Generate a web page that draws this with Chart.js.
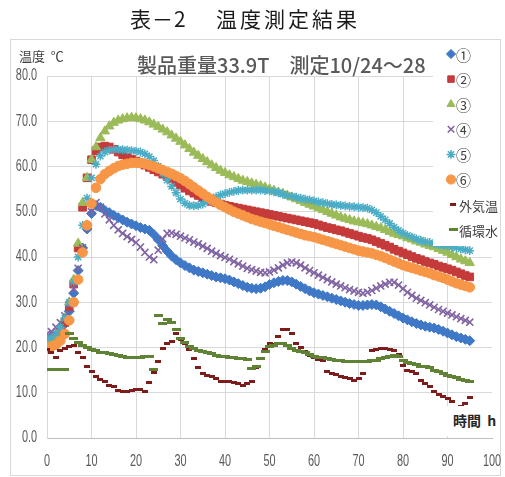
<!DOCTYPE html>
<html>
<head>
<meta charset="utf-8">
<script src="https://cdn.jsdelivr.net/npm/chart.js@4/dist/chart.umd.min.js"></script>
<style>
  html, body { margin: 0; padding: 0; background: #fff; }
  #wrap { position: relative; width: 505px; height: 477px; overflow: hidden; font-family: "Noto Sans CJK JP", sans-serif; }
  #frame { position: absolute; left: 10px; top: 39px; width: 491px; height: 437px; border: 1px solid #d9d9d9; box-sizing: border-box; }
  #chart { position: absolute; left: 0; top: 0; }
  .t { position: absolute; line-height: 1; white-space: nowrap; }
  #head1 { left: 130px; top: 8px; font-size: 21px; color: #1a1a1a; letter-spacing: 1px; }
  #head2 { left: 216px; top: 8px; font-size: 21px; color: #1a1a1a; letter-spacing: 3px; }
  #sub { left: 137px; top: 55px; font-size: 20px; font-weight: 500; color: #595959; }
  #yunit { left: 19px; top: 49px; font-size: 13px; color: #404040; }
  #xunit { left: 442px; top: 406px; width: 58px; height: 30px; background: #fff; font-size: 14px; font-weight: bold; color: #262626; padding: 7px 0 0 11px; box-sizing: border-box; }
</style>
</head>
<body>
<div id="wrap">
  <div id="frame"></div>
  <canvas id="chart" width="505" height="477"></canvas>
  <div class="t" id="head1">表－2</div>
  <div class="t" id="head2">温度測定結果</div>
  <div class="t" id="sub">製品重量33.9T　測定10/24～28</div>
  <div class="t" id="yunit">温度&nbsp;&nbsp;℃</div>
  <div class="t" id="xunit">時間&nbsp;&nbsp;h</div>
</div>
<script>
// elapsed time of each reading (h)
const HOURS = [
  0, 1, 2, 3, 4, 5, 6, 7, 8, 9,
  10, 11, 12, 13, 14, 15, 16, 17, 18, 19,
  20, 21, 22, 23, 24, 25, 26, 27, 28, 29,
  30, 31, 32, 33, 34, 35, 36, 37, 38, 39,
  40, 41, 42, 43, 44, 45, 46, 47, 48, 49,
  50, 51, 52, 53, 54, 55, 56, 57, 58, 59,
  60, 61, 62, 63, 64, 65, 66, 67, 68, 69,
  70, 71, 72, 73, 74, 75, 76, 77, 78, 79,
  80, 81, 82, 83, 84, 85, 86, 87, 88, 89,
  90, 91, 92, 93, 94, 95
];

// measuring points ① – ⑥ (℃)
const P1 = [
  22.0, 22.2, 22.8, 23.8, 25.2, 28.0, 32.0, 37.0, 42.0, 46.2,
  49.6, 51.4, 51.0, 50.3, 49.8, 49.2, 48.7, 48.2, 47.7, 47.3,
  46.9, 46.5, 46.2, 45.9, 45.0, 43.8, 42.5, 41.3, 40.2, 39.4,
  38.7, 38.1, 37.6, 37.1, 36.8, 36.5, 36.2, 35.9, 35.6, 35.4,
  35.2, 34.9, 34.5, 34.1, 33.7, 33.3, 33.1, 33.0, 33.1, 33.4,
  33.9, 34.3, 34.6, 34.8, 34.8, 34.5, 34.0, 33.5, 33.0, 32.5,
  32.1, 31.8, 31.5, 31.2, 30.9, 30.6, 30.3, 30.0, 29.7, 29.5,
  29.3, 29.3, 29.4, 29.5, 29.4, 29.0, 28.5, 28.0, 27.5, 27.0,
  26.5, 26.1, 25.7, 25.3, 25.0, 24.7, 24.5, 24.3, 24.0, 23.6,
  23.2, 22.8, 22.4, 22.1, 21.8, 21.5
];
const P2 = [
  21.5, 21.6, 22.0, 23.5, 25.5, 29.0, 34.0, 42.0, 51.0, 57.5,
  61.5, 63.5, 64.3, 64.5, 64.3, 63.8, 63.2, 62.6, 62.0, 61.6,
  61.2, 60.8, 60.3, 59.8, 59.3, 58.8, 58.3, 57.8, 57.3, 56.6,
  55.9, 55.2, 54.6, 54.1, 53.6, 53.1, 52.7, 52.3, 52.0, 51.7,
  51.4, 51.2, 51.0, 50.8, 50.6, 50.4, 50.2, 50.0, 49.8, 49.6,
  49.4, 49.2, 49.0, 48.8, 48.6, 48.4, 48.2, 48.0, 47.8, 47.6,
  47.4, 47.1, 46.8, 46.5, 46.3, 46.0, 45.8, 45.5, 45.2, 44.9,
  44.6, 44.3, 44.1, 43.8, 43.4, 43.0, 42.6, 42.2, 41.7, 41.3,
  40.9, 40.5, 40.1, 39.7, 39.4, 39.0, 38.7, 38.4, 38.0, 37.7,
  37.4, 37.1, 36.7, 36.3, 35.9, 35.6
];
const P3 = [
  21.0, 21.5, 22.5, 24.0, 26.5, 30.0, 35.0, 43.0, 52.0, 57.5,
  61.5, 64.3, 66.3, 67.8, 68.9, 69.7, 70.2, 70.5, 70.7, 70.8,
  70.7, 70.5, 70.2, 69.8, 69.3, 68.8, 68.2, 67.6, 66.9, 66.2,
  65.5, 64.7, 63.9, 63.1, 62.4, 61.7, 61.0, 60.3, 59.7, 59.1,
  58.6, 58.1, 57.7, 57.3, 56.9, 56.6, 56.3, 56.0, 55.7, 55.4,
  55.0, 54.7, 54.3, 54.0, 53.6, 53.2, 52.8, 52.4, 52.0, 51.6,
  51.2, 50.8, 50.4, 50.0, 49.6, 49.2, 48.8, 48.5, 48.2, 47.9,
  47.7, 47.5, 47.3, 47.0, 46.7, 46.4, 46.0, 45.6, 45.2, 44.9,
  44.6, 44.2, 43.9, 43.5, 43.2, 42.8, 42.5, 42.2, 41.8, 41.4,
  41.0, 40.5, 40.0, 39.5, 39.1, 38.7
];
const P4 = [
  23.0, 23.5, 24.5, 25.5, 27.0, 29.5, 33.0, 37.5, 42.0, 46.5,
  50.0, 52.0, 51.0, 49.5, 48.2, 47.0, 46.0, 45.2, 44.5, 43.9,
  43.2, 42.2, 41.0, 40.0, 39.4, 41.5, 44.0, 45.2, 45.3, 45.0,
  44.6, 44.2, 43.8, 43.3, 42.9, 42.4, 41.9, 41.3, 40.8, 40.3,
  39.9, 39.5, 39.0, 38.5, 38.0, 37.5, 37.2, 36.9, 36.6, 36.5,
  36.7, 37.1, 37.6, 38.2, 38.7, 38.9, 38.7, 38.2, 37.6, 37.0,
  36.5, 36.0, 35.5, 35.0, 34.5, 34.0, 33.6, 33.2, 32.8, 32.5,
  32.2, 32.0, 32.2, 32.6, 33.1, 33.6, 34.0, 34.4, 34.4, 33.8,
  33.0, 32.2, 31.5, 30.9, 30.4, 29.9, 29.4, 28.9, 28.4, 28.0,
  27.6, 27.2, 26.8, 26.4, 26.0, 25.6
];
const P5 = [
  22.0, 22.2, 23.0, 24.5, 26.5, 30.0, 34.5, 40.0, 47.0, 53.0,
  57.5, 60.5, 62.3, 63.2, 63.6, 63.8, 63.8, 63.7, 63.6, 63.5,
  63.4, 63.2, 62.8, 62.2, 61.3, 60.0, 58.5, 57.0, 55.6, 54.2,
  52.8, 51.9, 51.4, 51.3, 51.4, 51.7, 52.2, 52.8, 53.3, 53.7,
  54.0, 54.3, 54.5, 54.7, 54.8, 54.8, 54.8, 54.8, 54.8, 54.7,
  54.6, 54.4, 54.2, 53.9, 53.6, 53.4, 53.2, 53.0, 52.8, 52.6,
  52.4, 52.2, 52.0, 51.8, 51.6, 51.5, 51.4, 51.3, 51.2, 51.1,
  51.0, 50.9, 50.8, 50.4, 49.8, 49.0, 48.2, 47.4, 46.6, 45.9,
  45.3, 44.8, 44.4, 44.0, 43.7, 43.4, 43.2, 43.0, 42.8, 42.6,
  42.4, 42.2, 42.0, 41.8, 41.6, 41.4
];
const P6 = [
  20.0, 20.2, 20.6, 21.5, 23.0, 26.0, 30.0, 35.0, 41.0, 47.0,
  51.8, 55.3, 57.2, 58.3, 59.0, 59.6, 60.1, 60.4, 60.6, 60.8,
  60.8, 60.8, 60.6, 60.3, 60.0, 59.6, 59.2, 58.8, 58.4, 57.9,
  57.4, 56.8, 56.1, 55.4, 54.7, 54.0, 53.3, 52.7, 52.1, 51.5,
  51.0, 50.5, 50.0, 49.6, 49.2, 48.8, 48.4, 48.1, 47.8, 47.5,
  47.2, 46.9, 46.6, 46.3, 46.0, 45.7, 45.4, 45.1, 44.8, 44.6,
  44.4, 44.1, 43.8, 43.5, 43.2, 42.9, 42.6, 42.3, 42.0, 41.7,
  41.4, 41.2, 41.0, 40.8, 40.5, 40.2, 39.8, 39.4, 39.0, 38.6,
  38.2, 37.9, 37.6, 37.3, 37.0, 36.7, 36.4, 36.0, 35.7, 35.4,
  35.0, 34.6, 34.2, 33.9, 33.6, 33.3
];
// outside air (℃)
const AIR = [
  19.5, 18.8, 17.8, 19.3, 19.8, 20.3, 20.4, 18.9, 17.8, 15.9,
  14.7, 13.5, 13.0, 12.4, 11.7, 11.3, 10.6, 10.2, 10.2, 10.6,
  10.8, 10.8, 10.2, 12.2, 14.5, 17.0, 19.7, 20.8, 21.3, 23.0,
  21.7, 20.9, 19.5, 17.5, 15.5, 14.3, 13.8, 13.5, 13.2, 12.4,
  12.4, 12.4, 12.2, 12.0, 11.7, 12.0, 12.4, 15.5, 17.5, 19.5,
  20.9, 20.7, 22.5, 23.9, 23.9, 23.1, 20.9, 20.0, 19.1, 18.3,
  17.8, 17.4, 17.1, 14.7, 14.2, 14.0, 13.6, 13.3, 13.2, 12.8,
  13.2, 14.3, 17.0, 19.4, 19.6, 19.8, 19.8, 19.6, 19.4, 18.5,
  16.1, 15.0, 14.6, 14.3, 12.8, 12.0, 11.3, 10.2, 9.7, 9.2,
  8.7, 8.0, 6.6, 7.0, 7.7, 9.0
];
// circulating water (℃)
const WATER = [
  15.2, 15.2, 15.2, 15.2, 15.2, 23.0, 22.0, 21.2, 20.5, 19.9,
  19.5, 19.3, 19.0, 18.8, 18.6, 18.4, 18.2, 18.0, 17.9, 17.8,
  17.8, 17.9, 18.1, 18.1, 15.2, 27.0, 25.3, 26.1, 25.6, 23.9,
  22.0, 21.0, 20.2, 19.7, 19.4, 19.1, 18.8, 18.6, 18.3, 18.1,
  18.1, 17.9, 17.7, 17.6, 17.5, 17.4, 15.3, 15.8, 17.6, 19.1,
  20.2, 20.5, 20.8, 20.9, 20.4, 19.8, 19.3, 19.1, 19.0, 18.4,
  18.1, 17.9, 17.8, 17.6, 17.4, 17.2, 17.1, 17.0, 16.9, 16.9,
  16.9, 17.0, 17.0, 17.1, 17.2, 17.6, 17.9, 18.1, 18.3, 18.1,
  17.2, 16.6, 16.4, 16.3, 15.9, 15.7, 15.5, 15.0, 14.6, 14.3,
  13.9, 13.6, 13.4, 13.0, 12.7, 12.4
];

const SERIES_NAMES = ['①', '②', '③', '④', '⑤', '⑥', '外気温', '循環水'];
const X_TICKS = [0, 10, 20, 30, 40, 50, 60, 70, 80, 90, 100];
const Y_TICKS = [0, 10, 20, 30, 40, 50, 60, 70, 80];

const TICK_FONT = "16px 'Liberation Sans', Arial, sans-serif";
const TICK_SQUEEZE = 0.68;   // condensed look of the axis numbers
const CJK = "'Noto Sans CJK JP', sans-serif";

// flat bar used as a marker for the two reference temperatures
function barMarker(w, h, color) {
  const c = document.createElement('canvas');
  c.width = w; c.height = h;
  const g = c.getContext('2d');
  g.fillStyle = color;
  g.fillRect(0, 0, w, h);
  return c;
}

function pts(values) {
  return HOURS.map((h, i) => ({ x: h, y: values[i] }));
}

const styles = [
  { color: '#3F78C6', pointStyle: 'rectRot', radius: 5.0, borderWidth: 1 },
  { color: '#C53A3A', pointStyle: 'rect', radius: 5.4, borderWidth: 1 },
  { color: '#9BBB59', pointStyle: 'triangle', radius: 5.4, borderWidth: 1 },
  { color: '#8064A2', pointStyle: 'crossRot', radius: 5.0, borderWidth: 1.6 },
  { color: '#4BACC6', pointStyle: 'star', radius: 4.4, borderWidth: 1.5 },
  { color: '#F79646', pointStyle: 'circle', radius: 4.8, borderWidth: 1 },
  { color: '#7E1C1C', pointStyle: barMarker(6, 3, '#7E1C1C'), radius: 4, borderWidth: 0 },
  { color: '#5F8234', pointStyle: barMarker(9, 3, '#5F8234'), radius: 5, borderWidth: 0 }
];
const VALUES = [P1, P2, P3, P4, P5, P6, AIR, WATER];

const datasets = VALUES.map((vals, i) => ({
  label: SERIES_NAMES[i],
  data: pts(vals),
  showLine: false,
  pointStyle: styles[i].pointStyle,
  pointRadius: styles[i].radius,
  pointHoverRadius: styles[i].radius,
  pointBorderWidth: styles[i].borderWidth,
  backgroundColor: styles[i].color,
  borderColor: styles[i].color,
  order: 20 - i
}));

// axis numbers, drawn narrow at the scale's own tick positions
const axisNumbers = {
  id: 'axisNumbers',
  afterDraw(chart) {
    const ctx = chart.ctx;
    const xs = chart.scales.x, ys = chart.scales.y;
    ctx.save();
    ctx.fillStyle = '#595959';
    ctx.font = TICK_FONT;
    ctx.textBaseline = 'middle';
    Y_TICKS.forEach(v => {
      ctx.save();
      ctx.translate(xs.left - 10, ys.getPixelForValue(v));
      ctx.scale(TICK_SQUEEZE, 1);
      ctx.textAlign = 'right';
      ctx.fillText(v.toFixed(1), 0, 0);
      ctx.restore();
    });
    X_TICKS.forEach(v => {
      ctx.save();
      ctx.translate(xs.getPixelForValue(v), ys.bottom + 24);
      ctx.scale(TICK_SQUEEZE, 1);
      ctx.textAlign = 'center';
      ctx.fillText(String(v), 0, 0);
      ctx.restore();
    });
    ctx.restore();
  }
};

// legend drawn over the right edge of the plot, on a white panel
const sideLegend = {
  id: 'sideLegend',
  afterDraw(chart) {
    const ctx = chart.ctx;
    ctx.save();
    ctx.fillStyle = '#ffffff';
    ctx.fillRect(433, 41, 67, 205);
    chart.data.datasets.forEach((ds, i) => {
      const y = 54 + i * 25.1;
      const isBar = i >= 6;
      const mx = isBar ? 453 : 451;
      ctx.fillStyle = ds.backgroundColor;
      ctx.strokeStyle = ds.borderColor;
      ctx.lineWidth = ds.pointBorderWidth;
      Chart.helpers.drawPoint(ctx, {
        pointStyle: ds.pointStyle,
        radius: Math.min(ds.pointRadius, 4.6),
        rotation: 0,
        borderWidth: ds.pointBorderWidth
      }, mx, y);
      ctx.fillStyle = '#404040';
      ctx.textBaseline = 'middle';
      ctx.textAlign = 'left';
      ctx.font = isBar ? "13px " + CJK : "15px " + CJK;
      ctx.fillText(ds.label, isBar ? 459 : 456, y + 1);
    });
    ctx.restore();
  }
};

new Chart(document.getElementById('chart'), {
  type: 'scatter',
  data: { datasets },
  options: {
    responsive: false,
    animation: false,
    devicePixelRatio: 1,
    layout: { padding: { top: 76, right: 13, left: 0, bottom: 0 } },
    plugins: { legend: { display: false }, tooltip: { enabled: false }, title: { display: false } },
    scales: {
      x: {
        type: 'linear',
        min: 0, max: 100,
        afterFit: s => { s.height = 39; },
        afterBuildTicks: s => { s.ticks = X_TICKS.map(v => ({ value: v })); },
        ticks: { display: false },
        grid: {
          color: c => (c.tick && c.tick.value === 100 ? 'rgba(0,0,0,0)' : '#d9d9d9'),
          lineWidth: 1, drawTicks: false
        },
        border: { color: '#bfbfbf', width: 1 }
      },
      y: {
        type: 'linear',
        min: 0, max: 80,
        afterFit: s => { s.width = 47; },
        afterBuildTicks: s => { s.ticks = Y_TICKS.map(v => ({ value: v })); },
        ticks: { display: false },
        grid: { color: '#d9d9d9', lineWidth: 1, drawTicks: false },
        border: { color: '#d9d9d9', width: 1 }
      }
    }
  },
  plugins: [axisNumbers, sideLegend]
});
</script>
</body>
</html>
